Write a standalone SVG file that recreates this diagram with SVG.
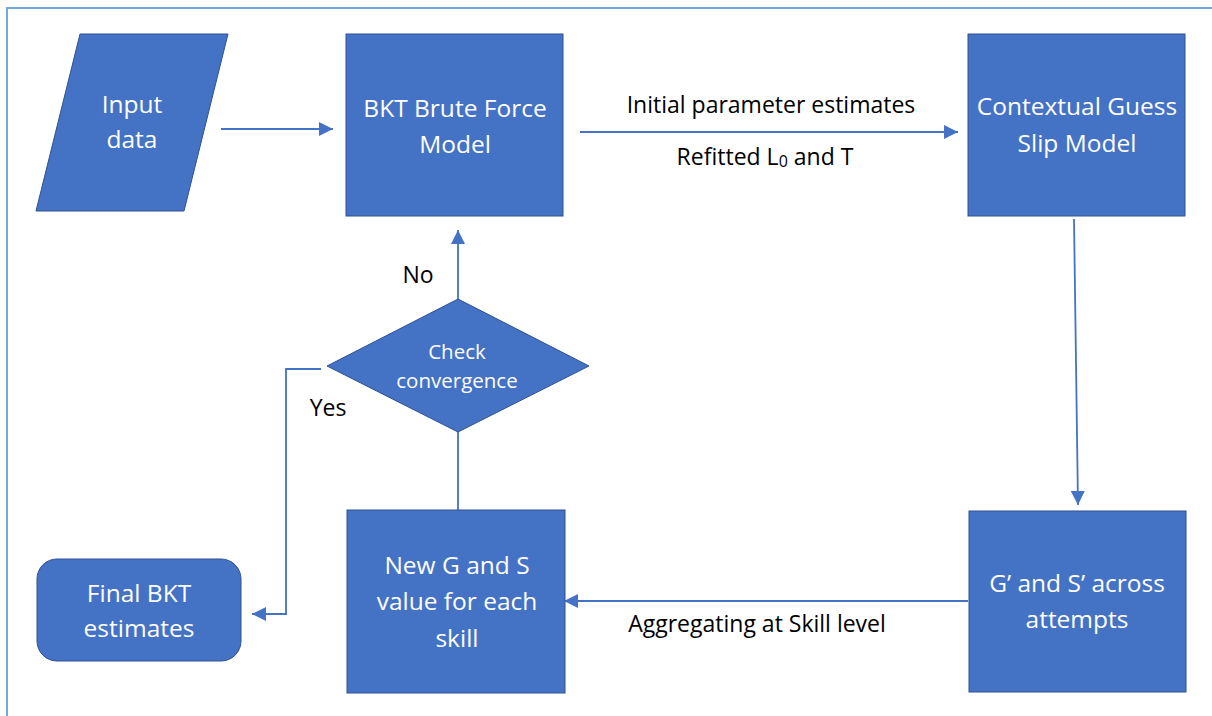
<svg xmlns="http://www.w3.org/2000/svg" width="1212" height="716" viewBox="0 0 1212 716">
  <style>
    .node { fill: #4472C4; stroke: #2F528F; stroke-width: 1; }
    .ntext { font-family: "Open Sans", "Liberation Sans", sans-serif; font-size: 24.5px; fill: #FFFFFF; text-anchor: middle; }
    .dtext { font-family: "Open Sans", "Liberation Sans", sans-serif; font-size: 20.5px; fill: #FFFFFF; text-anchor: middle; }
    .label { font-family: "Open Sans", "Liberation Sans", sans-serif; font-size: 23px; fill: #000000; text-anchor: middle; }
    .conn { fill: none; stroke: #4472C4; stroke-width: 1.8; }
  </style>
  <defs>
    <marker id="arrow" markerUnits="userSpaceOnUse" markerWidth="15" markerHeight="14" refX="14" refY="7" orient="auto">
      <path d="M0,0 L14,7 L0,14 Z" fill="#4472C4"/>
    </marker>
  </defs>
  <rect x="0" y="0" width="1212" height="716" fill="#FFFFFF"/>
  <rect x="7" y="8" width="1230" height="730" fill="none" stroke="#74A7DE" stroke-width="2"/>

  <g id="connectors">
    <line class="conn" x1="221" y1="129" x2="333" y2="129" marker-end="url(#arrow)"/>
    <line class="conn" x1="580" y1="132" x2="958" y2="132" marker-end="url(#arrow)"/>
    <line class="conn" x1="1074" y1="219" x2="1078" y2="505" marker-end="url(#arrow)"/>
    <line class="conn" x1="968" y1="601" x2="564" y2="601" marker-end="url(#arrow)"/>
    <line class="conn" x1="458" y1="299" x2="458" y2="230" marker-end="url(#arrow)"/>
    <line class="conn" x1="458" y1="510" x2="458" y2="432"/>
    <polyline class="conn" points="321,369 286,369 286,614 252,614" marker-end="url(#arrow)"/>
    <text class="label" x="771" y="113">Initial parameter estimates</text>
    <text class="label" x="765" y="165">Refitted L<tspan font-size="16" dy="2">0</tspan><tspan dy="-2"> and T</tspan></text>
    <text class="label" x="757" y="632">Aggregating at Skill level</text>
    <text class="label" x="418" y="283">No</text>
    <text class="label" x="328" y="416">Yes</text>
  </g>

  <g id="input-data">
    <polygon class="node" points="80,34 228,34 184,211 36,211"/>
    <text class="ntext" x="132" y="113">Input</text>
    <text class="ntext" x="132" y="148">data</text>
  </g>

  <g id="bkt-brute-force">
    <rect class="node" x="346" y="34" width="217" height="182"/>
    <text class="ntext" x="455" y="117">BKT Brute Force</text>
    <text class="ntext" x="455" y="153">Model</text>
  </g>

  <g id="contextual-guess-slip">
    <rect class="node" x="968" y="34" width="217" height="182"/>
    <text class="ntext" x="1077" y="115">Contextual Guess</text>
    <text class="ntext" x="1077" y="152">Slip Model</text>
  </g>

  <g id="g-s-across-attempts">
    <rect class="node" x="969" y="511" width="217" height="181"/>
    <text class="ntext" x="1077" y="592">G’ and S’ across</text>
    <text class="ntext" x="1077" y="628">attempts</text>
  </g>

  <g id="new-g-s">
    <rect class="node" x="347" y="510" width="218" height="183"/>
    <text class="ntext" x="457" y="574">New G and S</text>
    <text class="ntext" x="457" y="610">value for each</text>
    <text class="ntext" x="457" y="647">skill</text>
  </g>

  <g id="check-convergence">
    <polygon class="node" points="458,299 589,366 458,432 327,366"/>
    <text class="dtext" x="457" y="359">Check</text>
    <text class="dtext" x="457" y="388">convergence</text>
  </g>

  <g id="final-bkt">
    <rect class="node" x="37" y="559" width="204" height="102" rx="20" ry="20"/>
    <text class="ntext" x="139" y="602">Final BKT</text>
    <text class="ntext" x="139" y="637">estimates</text>
  </g>
</svg>
